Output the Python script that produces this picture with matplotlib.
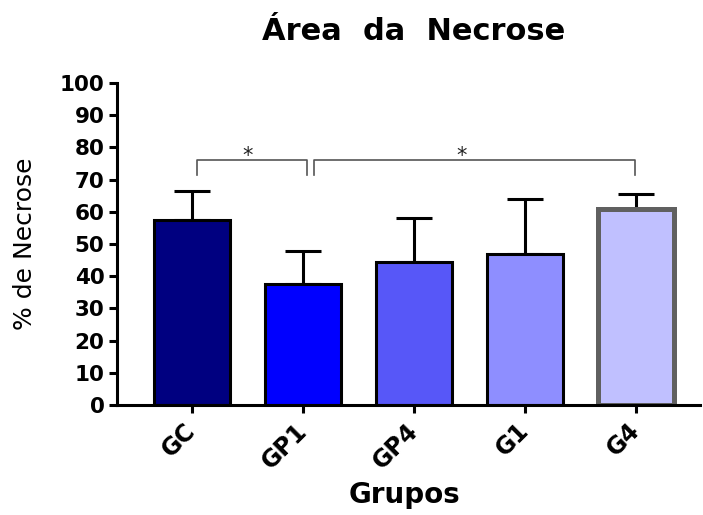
import matplotlib
matplotlib.use("Agg")
import matplotlib.pyplot as plt

groups = ["GC", "GP1", "GP4", "G1", "G4"]
means = [57.4, 37.7, 44.4, 46.9, 60.9]
sds = [9.1, 10.2, 13.6, 17.1, 4.7]
colors = ["#000080", "#0000FF", "#5757F8", "#8E8EFF", "#C0C0FF"]
edges = ["black", "black", "black", "black", "#606060"]
edge_lw = [2.2, 2.2, 2.2, 2.2, 3.6]
yticks = list(range(0, 101, 10))

# significance brackets: (x start, x end, y top, y bottom, star x)
brackets = [(0.045, 1.036, 76.1, 71.4, 0.5), (1.10, 3.99, 76.1, 71.4, 2.43)]

plt.rcParams['font.family'] = ['DejaVu Sans']

fig = plt.figure(figsize=(7.03, 5.15), dpi=100)
ax = fig.add_axes([117/703, 1-405/515, 700/703 - 117/703, (405-83)/515])

x = list(range(len(groups)))
ax.errorbar(x, means, yerr=[[0]*len(sds), sds], fmt='none', ecolor='black',
            elinewidth=2.2, capsize=13, capthick=2.2, zorder=1)
ax.bar(x, means, width=0.68, color=colors, edgecolor=edges, linewidth=edge_lw, zorder=2)

for xs, xe, yt, yb, sx in brackets:
    ax.plot([xs, xs, xe, xe], [yb, yt, yt, yb], color='#555555', lw=1.2,
            solid_joinstyle='round', clip_on=False, zorder=3)
    ax.text(sx, yt - 2.0, "*", ha='center', va='bottom', fontsize=15, color='#222222')

ax.set_xlim(-0.676, 4.577)
ax.set_ylim(0, 100)
ax.set_yticks(yticks)
ax.set_yticklabels([str(v) for v in yticks], fontsize=15.5, fontweight='bold')
ax.set_xticks(x)
ax.set_xticklabels(groups, fontsize=17, fontweight='bold', rotation=45,
                   ha='right', va='center', rotation_mode='anchor')

for s in ['top', 'right']:
    ax.spines[s].set_visible(False)
for s in ['left', 'bottom']:
    ax.spines[s].set_linewidth(2.2)
ax.tick_params(axis='both', width=2.2, length=6, direction='out', pad=3)
ax.tick_params(axis='x', length=6, pad=10)

ax.set_ylabel("% de Necrose", fontsize=18)
ax.yaxis.set_label_coords(-0.137, 0.5)
fig.text(405/703, 1-495/515, "Grupos", ha='center', va='center', fontsize=20, fontweight='bold')
fig.text(414/703, 1-31/515, "Área  da  Necrose", ha='center', va='center', fontsize=22, fontweight='bold')

fig.savefig("out.png", dpi=100)
